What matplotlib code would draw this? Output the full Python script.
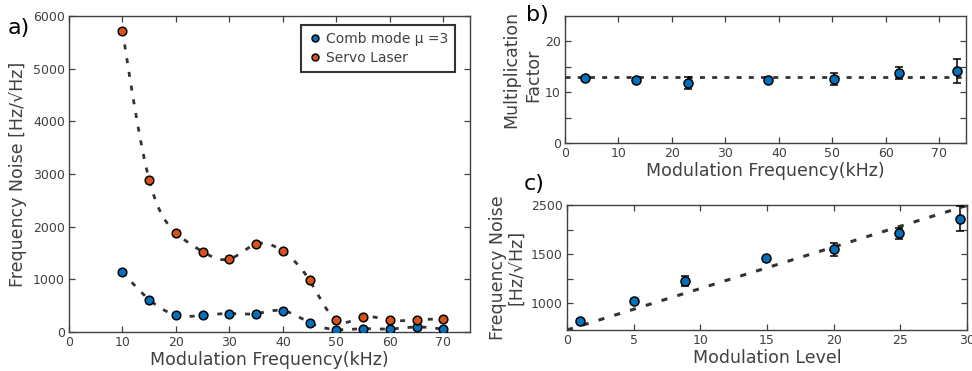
import numpy as np
import matplotlib
matplotlib.use("Agg")
import matplotlib.pyplot as plt
from matplotlib.ticker import FixedLocator, FixedFormatter

plt.rcParams['font.family'] = ['DejaVu Sans']

# a) frequency noise vs modulation frequency
freq_a = [10, 15, 20, 25, 30, 35, 40, 45, 50, 55, 60, 65, 70]
comb_noise = [1140, 615, 325, 315, 350, 350, 405, 177, 45, 63, 57, 95, 52]
servo_noise = [5720, 2890, 1885, 1525, 1385, 1670, 1530, 980, 222, 285, 222, 235, 240]

# b) multiplication factor
freq_b = [3.8, 13.2, 23.0, 37.9, 50.3, 62.5, 73.4]
mult = [12.75, 12.4, 11.8, 12.4, 12.6, 13.7, 14.2]
mult_err = [0.3, 0.3, 1.2, 0.3, 1.2, 1.2, 2.4]
mult_fit = 13.0

# c) frequency noise vs modulation level
level = [1, 5, 8.85, 14.9, 20, 24.9, 29.5]
noise_c = [813, 1017, 1221, 1462, 1600, 1920, 2220]
noise_c_err = [0, 0, 51, 0, 117, 117, 250]
fit_x = [0, 30]
fit_y = [725, 2490]

blue = '#0072BD'
orange = '#D95319'
dark = '#333333'
grey = '#404040'


def natural_spline(x, y, n=400):
    x = np.asarray(x, float)
    y = np.asarray(y, float)
    k = len(x)
    h = np.diff(x)
    A = np.zeros((k, k))
    r = np.zeros(k)
    A[0, 0] = A[-1, -1] = 1
    for i in range(1, k - 1):
        A[i, i - 1] = h[i - 1]
        A[i, i] = 2 * (h[i - 1] + h[i])
        A[i, i + 1] = h[i]
        r[i] = 6 * ((y[i + 1] - y[i]) / h[i] - (y[i] - y[i - 1]) / h[i - 1])
    m = np.linalg.solve(A, r)
    xs = np.linspace(x[0], x[-1], n)
    j = np.clip(np.searchsorted(x, xs) - 1, 0, k - 2)
    t0 = xs - x[j]
    t1 = x[j + 1] - xs
    hj = h[j]
    ys = (m[j] * t1 ** 3 + m[j + 1] * t0 ** 3) / (6 * hj) \
        + (y[j] / hj - m[j] * hj / 6) * t1 + (y[j + 1] / hj - m[j + 1] * hj / 6) * t0
    return xs, ys


def style_axes(ax, size=9):
    for s in ax.spines.values():
        s.set_color(grey)
        s.set_linewidth(1.0)
    ax.tick_params(direction='in', top=True, right=True, length=4, width=0.9,
                   colors=grey, labelsize=size, labelcolor=grey, pad=3)
    ax.tick_params(which='minor', direction='in', top=True, right=True, length=4,
                   width=0.9, colors=grey)


W, H = 972, 371
fig = plt.figure(figsize=(W / 100, H / 100), dpi=100)

# ---- panel a
ax1 = fig.add_axes([69 / W, 1 - 332 / H, 401 / W, 316 / H])
xs, ys = natural_spline(freq_a, servo_noise)
ax1.plot(xs, ys, color=dark, lw=2.0, dashes=(1.8, 3.2), zorder=2)
xs, ys = natural_spline(freq_a, comb_noise)
ax1.plot(xs, ys, color=dark, lw=2.0, dashes=(1.8, 3.2), zorder=2)
ax1.plot(freq_a, comb_noise, 'o', ms=6.2, mfc=blue, mec='black', mew=1.1,
         label='Comb mode \u03bc =3', zorder=3)
ax1.plot(freq_a, servo_noise, 'o', ms=6.2, mfc=orange, mec='black', mew=1.1,
         label='Servo Laser', zorder=3)
ax1.set_xlim(0, 75)
ax1.set_ylim(0, 6000)
ax1.set_xticks(range(0, 71, 10))
ax1.set_yticks(range(0, 6001, 1000))
style_axes(ax1, 9)
ax1.set_xlabel('Modulation Frequency(kHz)', fontsize=12.5, color=grey, labelpad=1)
ax1.set_ylabel('Frequency Noise [Hz/\u221aHz]', fontsize=12.5, color=grey, labelpad=4)
leg = ax1.legend(loc='upper right', bbox_to_anchor=(0.963, 0.972), borderaxespad=0,
                 fontsize=10, frameon=True, fancybox=False, markerscale=0.8,
                 handletextpad=0.3, handlelength=1.0, borderpad=0.5, labelspacing=0.4)
leg.get_frame().set_edgecolor('black')
leg.get_frame().set_linewidth(1.5)
for t in leg.get_texts():
    t.set_color(grey)

# ---- panel b
ax2 = fig.add_axes([565 / W, 1 - 143 / H, 401 / W, 127 / H])
ax2.axhline(mult_fit, color=dark, lw=2.0, dashes=(1.8, 2.6), zorder=1)
ax2.errorbar(freq_b, mult, yerr=mult_err, fmt='o', ms=6.5, mfc=blue, mec='black',
             mew=1.1, ecolor='black', elinewidth=1.1, capsize=3, capthick=1.1, zorder=3)
ax2.set_xlim(0, 75)
ax2.set_ylim(0, 25)
ax2.set_xticks(range(0, 71, 10))
ax2.set_yticks([0, 10, 20])
ax2.set_yticks([5, 15], minor=True)
style_axes(ax2, 9)
ax2.set_xlabel('Modulation Frequency(kHz)', fontsize=12.5, color=grey, labelpad=1)
# two-line y label, one text per line
ax2.text(511 / W, 1 - 69 / H, 'Multiplication', transform=fig.transFigure, rotation=90,
         fontsize=12.5, color=grey, ha='center', va='center')
ax2.text(533 / W, 1 - 75 / H, 'Factor', transform=fig.transFigure, rotation=90,
         fontsize=12.5, color=grey, ha='center', va='center')

# ---- panel c  (axis labels are unevenly spaced in the original)
def fwd(v):
    v = np.asarray(v, float)
    return np.where(v < 1500, (v - 1000) / 500.0, 1 + (v - 1500) / 1000.0)


def inv(u):
    u = np.asarray(u, float)
    return np.where(u < 1, 1000 + 500.0 * u, 1500 + 1000.0 * (u - 1))


ax3 = fig.add_axes([567 / W, 1 - 330 / H, 400 / W, 125 / H])
ax3.set_yscale('function', functions=(fwd, inv))
ax3.plot(fit_x, fit_y, color=dark, lw=2.2, dashes=(2.0, 3.4), zorder=1)
ax3.errorbar(level, noise_c, yerr=noise_c_err, fmt='o', ms=6.5, mfc=blue, mec='black',
             mew=1.1, ecolor='black', elinewidth=1.1, capsize=3, capthick=1.1, zorder=3)
ax3.set_xlim(0, 30)
ax3.set_ylim(725, 2500)
ax3.set_xticks(range(0, 31, 5))
ax3.yaxis.set_major_locator(FixedLocator([1000, 1500, 2500]))
ax3.yaxis.set_major_formatter(FixedFormatter(['1000', '1500', '2500']))
ax3.yaxis.set_minor_locator(FixedLocator([1250, 2000]))
style_axes(ax3, 9)
ax3.set_xlabel('Modulation Level', fontsize=12.5, color=grey, labelpad=1)
ax3.set_ylabel('Frequency Noise\n[Hz/\u221aHz]', fontsize=12.5, color=grey, labelpad=4,
               linespacing=1.0)

fig.text(8 / W, 1 - 28 / H, 'a)', fontsize=16, va='center', ha='left')
fig.text(526 / W, 1 - 15 / H, 'b)', fontsize=16, va='center', ha='left')
fig.text(524 / W, 1 - 184 / H, 'c)', fontsize=16, va='center', ha='left')

fig.savefig('out.png', dpi=100)
